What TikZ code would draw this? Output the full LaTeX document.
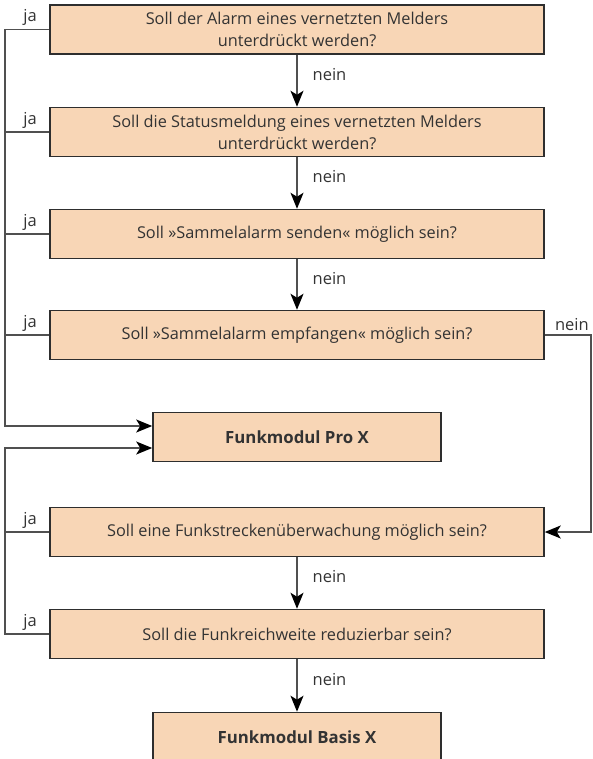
\documentclass[tikz,border=0pt]{standalone}
\usepackage{fontspec}
\setmainfont{Open Sans}
\usetikzlibrary{arrows.meta,calc}
\definecolor{boxfill}{HTML}{F8D6B6}
\definecolor{boxdraw}{HTML}{2E2E2E}
\definecolor{linec}{HTML}{505050}
\definecolor{txt}{HTML}{333333}
\tikzset{
  qbox/.style={draw=boxdraw, fill=boxfill, line width=1.5pt, minimum width=494pt, minimum height=49pt, inner sep=0pt, align=center, text=txt, font=\fontsize{16.3}{22}\selectfont},
  rbox/.style={draw=boxdraw, fill=boxfill, line width=1.6pt, minimum width=288pt, minimum height=49pt, inner sep=0pt, align=center, text=txt, font=\fontsize{16.8}{22}\selectfont\bfseries},
  conn/.style={draw=linec, line width=1.3pt},
  arr/.style={conn, -{Stealth[length=16pt,width=13pt,inset=4pt,color=black]}},
  lab/.style={text=txt, font=\fontsize{16.5}{18}\selectfont, inner sep=1pt}
}
\begin{document}
\begin{tikzpicture}[x=1pt,y=-1pt]
\useasboundingbox (0,0) rectangle (592,759);
\clip (0,0) rectangle (592,759);
\node[qbox] (b1) at (297,29.5) {Soll der Alarm eines vernetzten Melders\\unterdrückt werden?};
\node[qbox] (b2) at (297,132) {Soll die Statusmeldung eines vernetzten Melders\\unterdrückt werden?};
\node[qbox] (b3) at (297,234) {Soll »Sammelalarm senden« möglich sein?};
\node[qbox] (b4) at (297,335) {Soll »Sammelalarm empfangen« möglich sein?};
\node[rbox] (pro) at (297,437) {Funkmodul Pro X};
\node[qbox] (b5) at (297,532) {Soll eine Funkstreckenüberwachung möglich sein?};
\node[qbox] (b6) at (297,634) {Soll die Funkreichweite reduzierbar sein?};
\node[rbox] (basis) at (297,737) {Funkmodul Basis X};
% left x positions
\coordinate (l1) at (5,29.5);
\coordinate (l2) at (5,132);
\coordinate (l3) at (5,234);
\coordinate (l4) at (5,335);
\coordinate (p1) at ($(pro.west)+(0,-11)$);
\coordinate (p2) at ($(pro.west)+(0,11)$);
\coordinate (l5) at (5,532);
\coordinate (l6) at (5,634);
\coordinate (r4) at (591,335);
% down arrows
\draw[arr] (b1.south) -- node[lab, right=14pt, yshift=6pt] {nein} (b2.north);
\draw[arr] (b2.south) -- node[lab, right=14pt, yshift=6pt] {nein} (b3.north);
\draw[arr] (b3.south) -- node[lab, right=14pt, yshift=6pt] {nein} (b4.north);
\draw[arr] (b5.south) -- node[lab, right=14pt, yshift=6pt] {nein} (b6.north);
\draw[arr] (b6.south) -- node[lab, right=14pt, yshift=6pt] {nein} (basis.north);
% ja branches, upper loop
\draw[arr] (b1.west) -- node[lab, above=2pt, xshift=3pt] {ja} (l1) |- (p1);
\draw[conn] (b2.west) -- node[lab, above=2pt, xshift=3pt] {ja} (l2);
\draw[conn] (b3.west) -- node[lab, above=2pt, xshift=3pt] {ja} (l3);
\draw[conn] (b4.west) -- node[lab, above=2pt, xshift=3pt] {ja} (l4);
% ja branches, lower loop
\draw[arr] (b6.west) -- node[lab, above=2pt, xshift=3pt] {ja} (l6) |- (p2);
\draw[conn] (b5.west) -- node[lab, above=2pt, xshift=3pt] {ja} (l5);
% nein to the right
\draw[arr] (b4.east) -- node[lab, above=3pt, xshift=4pt] {nein} (r4) |- (b5.east);
\end{tikzpicture}
\end{document}
